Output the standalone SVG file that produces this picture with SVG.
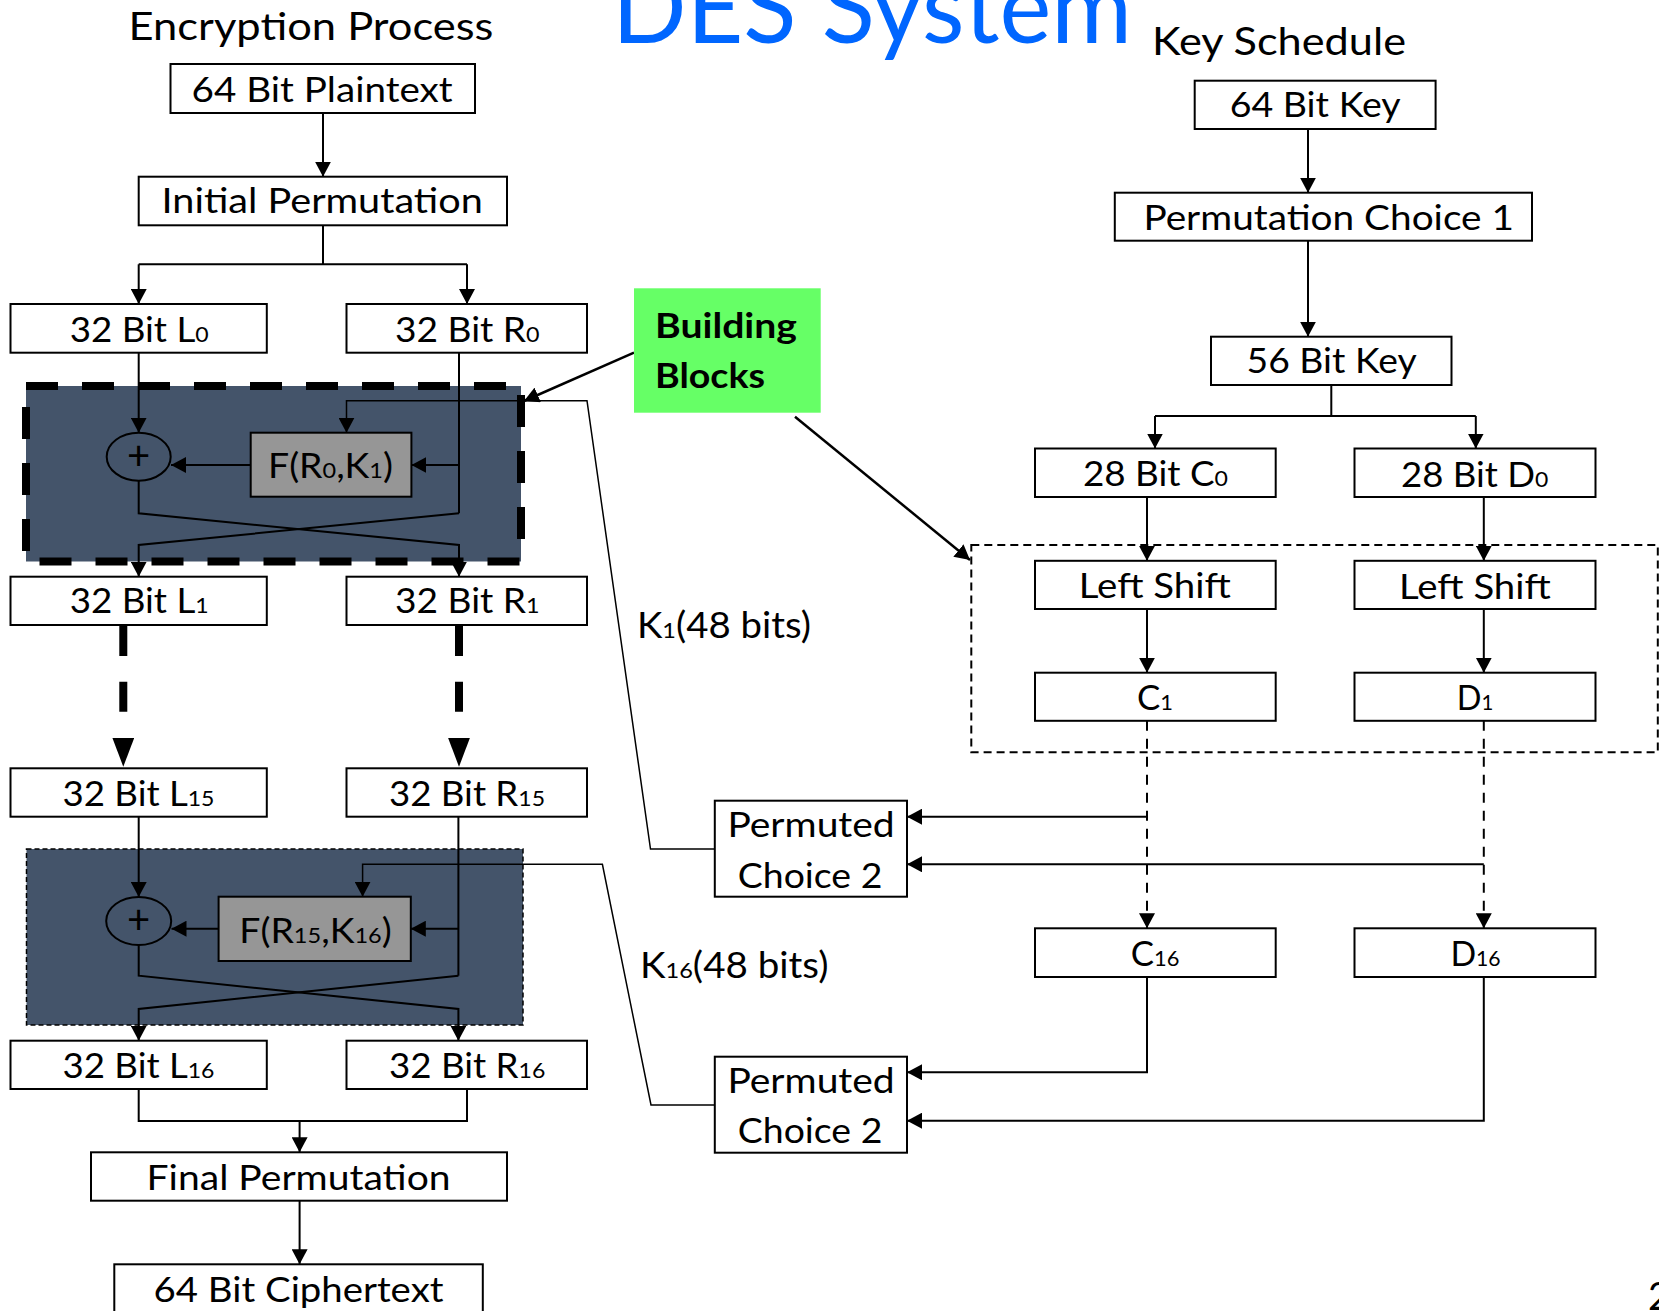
<svg xmlns="http://www.w3.org/2000/svg" width="1659" height="1311" viewBox="0 0 1659 1311">
  <style>
    .box { fill: #fff; stroke: #000; stroke-width: 2; }
    .fbox { fill: #969696; stroke: #000; stroke-width: 2; }
    .xor { fill: none; stroke: #000; stroke-width: 2; }
    .lbl { font-family: Lato, "Liberation Sans", sans-serif; font-size: 35px; fill: #000; }
    .hdr { font-size: 39.5px; }
    .sub { font-size: 22px; }
    .bold { font-weight: bold; font-size: 34.5px; }
    .plus { font-size: 40px; }
    .wire { fill: none; stroke: #000; stroke-width: 2; }
    .thin { stroke-width: 1.5; }
    .heavy { stroke-width: 8; stroke-dasharray: 30 25.7 30 26; }
    .pointer { stroke-width: 2.5; }
    .kdash { stroke-dasharray: 10 8; }
    .round { fill: #44546A; }
  </style>
  <defs>
    <marker id="arr" markerUnits="userSpaceOnUse" markerWidth="16" markerHeight="16" refX="15" refY="8" orient="auto">
      <path d="M0,0 L15,8 L0,16 z" fill="#000"/>
    </marker>
    <marker id="bigarr" markerUnits="userSpaceOnUse" markerWidth="29" markerHeight="22" refX="0" refY="11" orient="auto">
      <path d="M0,0 L29,11 L0,22 z" fill="#000"/>
    </marker>
  </defs>

  <rect width="1659" height="1311" fill="#fff"/>

  <!-- headings -->
  <g id="headings">
    <text x="612" y="42.7" textLength="520" lengthAdjust="spacingAndGlyphs" style="font-family: Lato, 'Liberation Sans', sans-serif; font-size: 100px; fill: #0066FF;">DES System</text>
    <text class="lbl hdr" x="128.6" y="40" textLength="364.8" lengthAdjust="spacingAndGlyphs">Encryption Process</text>
    <text class="lbl hdr" x="1152" y="55" textLength="254" lengthAdjust="spacingAndGlyphs">Key Schedule</text>
    <text class="lbl" x="1648" y="1310" style="font-size:38px">2</text>
  </g>

  <!-- round blocks (backgrounds) -->
  <g id="round-1">
    <rect class="round" x="26" y="386" width="495" height="175.5" stroke="#000" stroke-width="8" stroke-dasharray="32 24"/>
  </g>
  <g id="round-16">
    <rect class="round" x="26.5" y="849" width="496.5" height="176" stroke="#000" stroke-width="1.5" stroke-dasharray="5 3"/>
  </g>

  <!-- key schedule round outline -->
  <g id="key-round">
    <rect x="971.3" y="545" width="686.5" height="207.3" fill="none" stroke="#000" stroke-width="2" stroke-dasharray="8 5"/>
  </g>

  <g id="connectors">
    <!-- encryption path -->
    <path class="wire" d="M323,113 V176.7" marker-end="url(#arr)"/>
    <path class="wire" d="M323,225.3 V264.3 M138.7,264.3 H467"/>
    <path class="wire" d="M138.7,264.3 V304" marker-end="url(#arr)"/>
    <path class="wire" d="M467,264.3 V304" marker-end="url(#arr)"/>

    <!-- round 1 -->
    <path class="wire" d="M138.7,352.7 V432.7" marker-end="url(#arr)"/>
    <path class="wire" d="M459,352.7 V513.3"/>
    <path class="wire" d="M459,465 H411.4" marker-end="url(#arr)"/>
    <path class="wire" d="M250.7,465 H171" marker-end="url(#arr)"/>
    <path class="wire" d="M138.7,480.7 V513.3 L459,545 V576.7" marker-end="url(#arr)"/>
    <path class="wire" d="M459,513.3 L138.7,545 V576.7" marker-end="url(#arr)"/>

    <!-- rounds 2..15 elided -->
    <path class="wire heavy" d="M123.3,626 V737.7" marker-end="url(#bigarr)"/>
    <path class="wire heavy" d="M459,626 V737.7" marker-end="url(#bigarr)"/>

    <!-- round 16 -->
    <path class="wire" d="M138.7,816.7 V897" marker-end="url(#arr)"/>
    <path class="wire" d="M458.4,816.7 V975.7"/>
    <path class="wire" d="M458.4,928.7 H410.8" marker-end="url(#arr)"/>
    <path class="wire" d="M218.6,928.7 H171.5" marker-end="url(#arr)"/>
    <path class="wire" d="M138.7,945 V975.7 L458.4,1009 V1040.7" marker-end="url(#arr)"/>
    <path class="wire" d="M458.4,975.7 L138.7,1009 V1040.7" marker-end="url(#arr)"/>

    <!-- output -->
    <path class="wire" d="M138.7,1089 V1121 H467 V1089"/>
    <path class="wire" d="M299.6,1121 V1152.3" marker-end="url(#arr)"/>
    <path class="wire" d="M299.6,1200.7 V1264.3" marker-end="url(#arr)"/>

    <!-- subkeys into the round functions -->
    <path class="wire thin" d="M714.8,849 H650.5 L587,400.7 H346.5 V432.7" marker-end="url(#arr)"/>
    <path class="wire thin" d="M714.8,1105 H651 L602.4,864.3 H362.6 V896.7" marker-end="url(#arr)"/>

    <!-- key schedule -->
    <path class="wire" d="M1308,129 V192.7" marker-end="url(#arr)"/>
    <path class="wire" d="M1308,240.7 V336.7" marker-end="url(#arr)"/>
    <path class="wire" d="M1331.3,385 V416 M1155,416 H1475.8"/>
    <path class="wire" d="M1155,416 V448.5" marker-end="url(#arr)"/>
    <path class="wire" d="M1475.8,416 V448.5" marker-end="url(#arr)"/>
    <path class="wire" d="M1147,497 V560.8" marker-end="url(#arr)"/>
    <path class="wire" d="M1483.8,497 V560.8" marker-end="url(#arr)"/>
    <path class="wire" d="M1147,609 V672.7" marker-end="url(#arr)"/>
    <path class="wire" d="M1483.8,609 V672.7" marker-end="url(#arr)"/>
    <path class="wire kdash" d="M1147,720.8 V928.3" marker-end="url(#arr)"/>
    <path class="wire kdash" d="M1483.8,720.8 V928.3" marker-end="url(#arr)"/>
    <path class="wire" d="M1147,816.7 H907" marker-end="url(#arr)"/>
    <path class="wire" d="M1483.8,864.3 H907" marker-end="url(#arr)"/>
    <path class="wire" d="M1147,977 V1072.3 H907" marker-end="url(#arr)"/>
    <path class="wire" d="M1483.8,977 V1120.7 H907" marker-end="url(#arr)"/>

    <!-- callout pointers -->
    <path class="wire pointer" d="M634,352.7 L524,401" marker-end="url(#arr)"/>
    <path class="wire pointer" d="M795,416.7 L970,560" marker-end="url(#arr)"/>
  </g>

  <!-- encryption nodes -->
  <g id="plaintext">
    <rect class="box" x="170.5" y="64" width="304.5" height="49"/>
    <text class="lbl" x="191.6" y="101.7" textLength="261" lengthAdjust="spacingAndGlyphs">64 Bit Plaintext</text>
  </g>
  <g id="initial-permutation">
    <rect class="box" x="138.7" y="176.7" width="368.3" height="48.6"/>
    <text class="lbl" x="161.5" y="213" textLength="321.3" lengthAdjust="spacingAndGlyphs">Initial Permutation</text>
  </g>
  <g id="L0">
    <rect class="box" x="10.5" y="304" width="256.3" height="48.7"/>
    <text class="lbl" x="69.7" y="341.7" textLength="139" lengthAdjust="spacingAndGlyphs">32 Bit L<tspan class="sub">0</tspan></text>
  </g>
  <g id="R0">
    <rect class="box" x="346.5" y="304" width="240.5" height="48.7"/>
    <text class="lbl" x="395" y="341.7" textLength="144.6" lengthAdjust="spacingAndGlyphs">32 Bit R<tspan class="sub">0</tspan></text>
  </g>
  <g id="xor-1">
    <ellipse class="xor" cx="138.7" cy="456.7" rx="32" ry="24"/>
    <text class="lbl plus" x="138.7" y="470" text-anchor="middle">+</text>
  </g>
  <g id="f-1">
    <rect class="fbox" x="250.7" y="432.7" width="160.7" height="64"/>
    <text class="lbl" x="268" y="478.3" textLength="125" lengthAdjust="spacingAndGlyphs">F(R<tspan class="sub">0</tspan>,K<tspan class="sub">1</tspan>)</text>
  </g>
  <g id="L1">
    <rect class="box" x="10.5" y="576.7" width="256.3" height="48.3"/>
    <text class="lbl" x="69.7" y="613.3" textLength="139" lengthAdjust="spacingAndGlyphs">32 Bit L<tspan class="sub">1</tspan></text>
  </g>
  <g id="R1">
    <rect class="box" x="346.5" y="576.7" width="240.5" height="48.3"/>
    <text class="lbl" x="395" y="613.3" textLength="144.6" lengthAdjust="spacingAndGlyphs">32 Bit R<tspan class="sub">1</tspan></text>
  </g>
  <g id="L15">
    <rect class="box" x="10.5" y="768.3" width="256.3" height="48.4"/>
    <text class="lbl" x="62.5" y="806" textLength="152" lengthAdjust="spacingAndGlyphs">32 Bit L<tspan class="sub">15</tspan></text>
  </g>
  <g id="R15">
    <rect class="box" x="346.5" y="768.3" width="240.5" height="48.4"/>
    <text class="lbl" x="389" y="806" textLength="156" lengthAdjust="spacingAndGlyphs">32 Bit R<tspan class="sub">15</tspan></text>
  </g>
  <g id="xor-16">
    <ellipse class="xor" cx="138.7" cy="921" rx="32.5" ry="24"/>
    <text class="lbl plus" x="138.7" y="934.3" text-anchor="middle">+</text>
  </g>
  <g id="f-16">
    <rect class="fbox" x="218.6" y="896.7" width="192.2" height="64.3"/>
    <text class="lbl" x="239.3" y="942.7" textLength="152.4" lengthAdjust="spacingAndGlyphs">F(R<tspan class="sub">15</tspan>,K<tspan class="sub">16</tspan>)</text>
  </g>
  <g id="L16">
    <rect class="box" x="10.5" y="1040.7" width="256.3" height="48.3"/>
    <text class="lbl" x="62.5" y="1078.3" textLength="152" lengthAdjust="spacingAndGlyphs">32 Bit L<tspan class="sub">16</tspan></text>
  </g>
  <g id="R16">
    <rect class="box" x="346.5" y="1040.7" width="240.5" height="48.3"/>
    <text class="lbl" x="389" y="1078.3" textLength="156.3" lengthAdjust="spacingAndGlyphs">32 Bit R<tspan class="sub">16</tspan></text>
  </g>
  <g id="final-permutation">
    <rect class="box" x="91" y="1152.3" width="416" height="48.4"/>
    <text class="lbl" x="146.6" y="1190" textLength="304" lengthAdjust="spacingAndGlyphs">Final Permutation</text>
  </g>
  <g id="ciphertext">
    <rect class="box" x="114.3" y="1264.3" width="368.5" height="60"/>
    <text class="lbl" x="153.5" y="1301.7" textLength="290" lengthAdjust="spacingAndGlyphs">64 Bit Ciphertext</text>
  </g>

  <!-- callout -->
  <g id="building-blocks">
    <rect x="634" y="288.3" width="186.7" height="124.4" fill="#66FF66"/>
    <text class="lbl bold" x="655" y="338" textLength="142" lengthAdjust="spacingAndGlyphs">Building</text>
    <text class="lbl bold" x="655" y="388" textLength="110" lengthAdjust="spacingAndGlyphs">Blocks</text>
  </g>

  <!-- subkey labels -->
  <g id="k1-label">
    <text class="lbl" x="636.9" y="638.3" textLength="174" lengthAdjust="spacingAndGlyphs" style="font-size:36px">K<tspan class="sub">1</tspan>(48 bits)</text>
  </g>
  <g id="k16-label">
    <text class="lbl" x="640" y="978.3" textLength="188.5" lengthAdjust="spacingAndGlyphs" style="font-size:36px">K<tspan class="sub">16</tspan>(48 bits)</text>
  </g>

  <!-- permuted choice 2 -->
  <g id="pc2-1">
    <rect class="box" x="714.8" y="800.7" width="192.2" height="96"/>
    <text class="lbl" x="727.4" y="837.3" textLength="167.3" lengthAdjust="spacingAndGlyphs">Permuted</text>
    <text class="lbl" x="737.8" y="888.3" textLength="144.6" lengthAdjust="spacingAndGlyphs">Choice 2</text>
  </g>
  <g id="pc2-16">
    <rect class="box" x="714.8" y="1056.7" width="192.2" height="96"/>
    <text class="lbl" x="727.4" y="1093.3" textLength="167.3" lengthAdjust="spacingAndGlyphs">Permuted</text>
    <text class="lbl" x="737.8" y="1143.3" textLength="144.6" lengthAdjust="spacingAndGlyphs">Choice 2</text>
  </g>

  <!-- key schedule nodes -->
  <g id="key64">
    <rect class="box" x="1194.7" y="80.7" width="240.9" height="48.3"/>
    <text class="lbl" x="1229.7" y="117" textLength="171" lengthAdjust="spacingAndGlyphs">64 Bit Key</text>
  </g>
  <g id="pc1">
    <rect class="box" x="1114.8" y="192.7" width="417.2" height="48"/>
    <text class="lbl" x="1143.4" y="230" textLength="370.6" lengthAdjust="spacingAndGlyphs">Permutation Choice 1</text>
  </g>
  <g id="key56">
    <rect class="box" x="1211" y="336.7" width="240.5" height="48.3"/>
    <text class="lbl" x="1246.6" y="373" textLength="170" lengthAdjust="spacingAndGlyphs">56 Bit Key</text>
  </g>
  <g id="C0">
    <rect class="box" x="1035" y="448.5" width="240.7" height="48.5"/>
    <text class="lbl" x="1083" y="486" textLength="145" lengthAdjust="spacingAndGlyphs">28 Bit C<tspan class="sub">0</tspan></text>
  </g>
  <g id="D0">
    <rect class="box" x="1354.5" y="448.5" width="241" height="48.5"/>
    <text class="lbl" x="1401" y="486.5" textLength="147.3" lengthAdjust="spacingAndGlyphs">28 Bit D<tspan class="sub">0</tspan></text>
  </g>
  <g id="shift-C">
    <rect class="box" x="1035" y="560.8" width="240.7" height="48.2"/>
    <text class="lbl" x="1078.8" y="597.5" textLength="152" lengthAdjust="spacingAndGlyphs">Left Shift</text>
  </g>
  <g id="shift-D">
    <rect class="box" x="1354.5" y="560.8" width="241" height="48.2"/>
    <text class="lbl" x="1399" y="598.5" textLength="151.7" lengthAdjust="spacingAndGlyphs">Left Shift</text>
  </g>
  <g id="C1">
    <rect class="box" x="1035" y="672.7" width="240.7" height="48.1"/>
    <text class="lbl" x="1137" y="710" textLength="36" lengthAdjust="spacingAndGlyphs">C<tspan class="sub">1</tspan></text>
  </g>
  <g id="D1">
    <rect class="box" x="1354.5" y="672.7" width="241" height="48.1"/>
    <text class="lbl" x="1456.7" y="710" textLength="36.6" lengthAdjust="spacingAndGlyphs">D<tspan class="sub">1</tspan></text>
  </g>
  <g id="C16">
    <rect class="box" x="1035" y="928.3" width="240.7" height="48.7"/>
    <text class="lbl" x="1130.7" y="966" textLength="48.7" lengthAdjust="spacingAndGlyphs">C<tspan class="sub">16</tspan></text>
  </g>
  <g id="D16">
    <rect class="box" x="1354.5" y="928.3" width="241" height="48.7"/>
    <text class="lbl" x="1450.4" y="966" textLength="50.3" lengthAdjust="spacingAndGlyphs">D<tspan class="sub">16</tspan></text>
  </g>
</svg>
